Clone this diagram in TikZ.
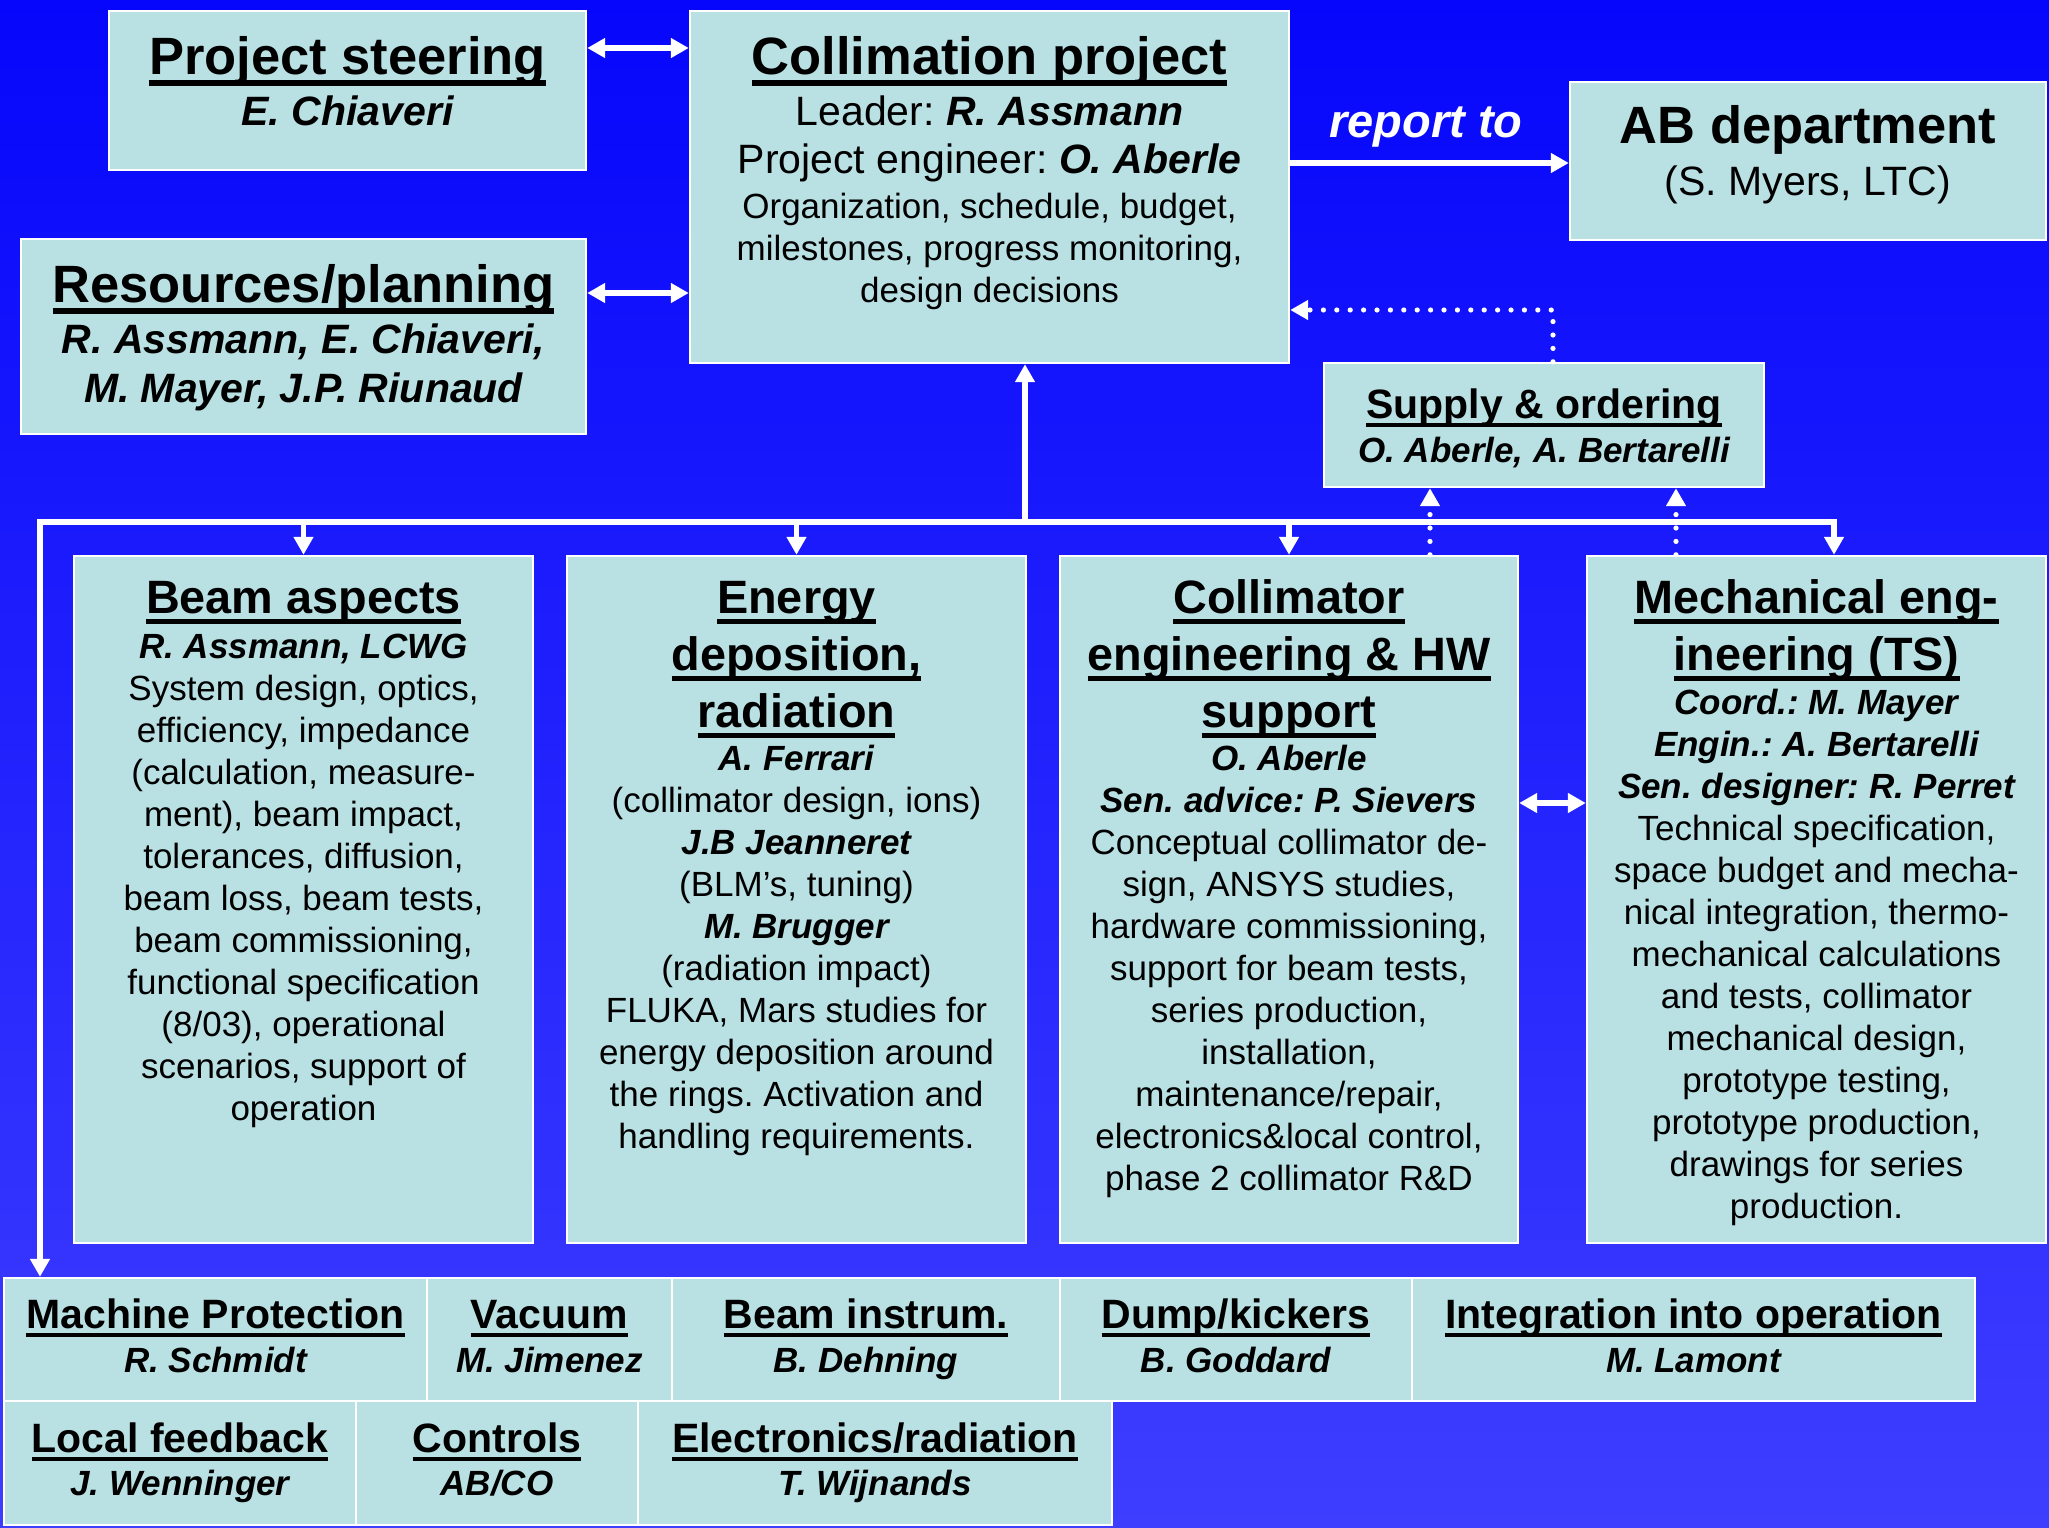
\documentclass[tikz,border=0pt]{standalone}
\usepackage{fontspec}
\setmainfont{Liberation Sans}
\usetikzlibrary{arrows.meta,fit}
\frenchspacing

\definecolor{boxfill}{RGB}{185,224,227}
\definecolor{bgtop}{RGB}{6,6,252}
\definecolor{bgbot}{RGB}{62,62,255}

% font sizes (picture unit: 1 = 0.5pt)
\newcommand\fhead{\fontsize{26.25pt}{31pt}\selectfont\bfseries}
\newcommand\fsub{\fontsize{23.4pt}{28pt}\selectfont\bfseries}
\newcommand\fmid{\fontsize{20.5pt}{24pt}\selectfont}
\newcommand\fbody{\fontsize{17.5pt}{21pt}\selectfont}
\newcommand\frep{\fontsize{23.5pt}{28pt}\selectfont\bfseries\itshape}

% bold italic names and underlined headings
\newcommand\nm[1]{{\bfseries\itshape #1}}
\newcommand\titleul[1]{\setbox0=\hbox{#1}\rlap{\rule[-0.225em]{\wd0}{0.105em}}\box0}

% one centred line per list item, baselines #4 apart
\newcommand\stack[6]{%
  \foreach \t [count=\i] in {#6}{%
    \node[#5] (#1-\i) at (#2,{#3+#4*(\i-1)}) {\t};}}

\tikzset{
  box/.style={draw=white, line width=1.2pt, fill=boxfill, inner sep=0pt},
  txt/.style={inner sep=0pt, anchor=base, text=black},
  head/.style={txt, font=\fhead},
  sub/.style={txt, font=\fsub},
  mid/.style={txt, font=\fmid},
  midb/.style={txt, font=\fmid\bfseries},
  midn/.style={txt, font=\fmid\bfseries\itshape},
  body/.style={txt, font=\fbody},
  bodyn/.style={txt, font=\fbody\bfseries\itshape},
  tipw/.tip={Triangle[length=9pt,width=9.5pt]},
  conn/.style={white, line width=2.6pt, -tipw},
  biconn/.style={white, line width=2.6pt, tipw-tipw},
  dots/.style={white, line width=2.6pt, line cap=round, dash pattern=on 0pt off 6.7pt, -tipw},
}

\begin{document}
\begin{tikzpicture}[x=0.5pt,y=-0.5pt]
\useasboundingbox (0,0) rectangle (2049,1527);
\fill[top color=bgtop, bottom color=bgbot] (0,0) rectangle (2049,1527);

% ---- boxes ----
\node[box, fit={(109,11) (586,170)}] (ps) {};
\node[box, fit={(21,239) (586,434)}] (res) {};
\node[box, fit={(690,11) (1289,363)}] (coll) {};
\node[box, fit={(1570,82) (2046,240)}] (ab) {};
\node[box, fit={(1324,363) (1764,487)}] (supply) {};
\node[box, fit={(74,556) (533,1243)}] (beam) {};
\node[box, fit={(567,556) (1026,1243)}] (energy) {};
\node[box, fit={(1060,556) (1518,1243)}] (collim) {};
\node[box, fit={(1587,556) (2046,1243)}] (mech) {};
% bottom rows
\node[box, fit={(4,1278) (427,1401)}] (mp) {};
\node[box, fit={(427,1278) (672,1401)}] (vac) {};
\node[box, fit={(672,1278) (1060,1401)}] (bi) {};
\node[box, fit={(1060,1278) (1412,1401)}] (dk) {};
\node[box, fit={(1412,1278) (1975,1401)}] (integ) {};
\node[box, fit={(4,1401) (356,1525)}] (lf) {};
\node[box, fit={(356,1401) (638,1525)}] (ctrl) {};
\node[box, fit={(638,1401) (1112,1525)}] (elec) {};

% ---- texts ----
\node[head] (ps-t) at (347.5,74) {\titleul{Project steering}};
\node[midn] (ps-n) at (347.5,125) {E. Chiaveri};

\node[head] (res-t) at (303.5,302) {\titleul{Resources/planning}};
\stack{res}{303.5}{353}{49}{midn}{{R. Assmann, E. Chiaveri,},{M. Mayer, J.P. Riunaud}}

\node[head] (coll-t) at (989.5,74) {\titleul{Collimation project}};
\node[mid] (coll-l) at (989.5,125) {Leader: \nm{R. Assmann}};
\node[mid] (coll-e) at (989.5,173) {Project engineer: \nm{O. Aberle}};
\stack{coll}{989.5}{218}{42}{body}{{Organization, schedule, budget,},{milestones, progress monitoring,},{design decisions}}

\node[txt, font=\frep, text=white] (rep) at (1426,137) {report to};

\node[head] (ab-t) at (1808,143) {AB department};
\node[mid] (ab-n) at (1808,195) {(S. Myers, LTC)};

\node[midb] (supply-t) at (1544,418) {\titleul{Supply \& ordering}};
\node[bodyn] (supply-n) at (1544,462) {O. Aberle, A. Bertarelli};

% beam aspects
\node[sub] (beam-t) at (303.5,613) {\titleul{Beam aspects}};
\node[bodyn] (beam-n) at (303.5,658) {R. Assmann, LCWG};
\stack{beam}{303.5}{700}{42}{body}{{System design, optics,},{efficiency, impedance},{(calculation, measure-},{ment), beam impact,},{tolerances, diffusion,},{beam loss, beam tests,},{beam commissioning,},{functional specification},{(8/03), operational},{scenarios, support of},{operation}}

% energy deposition
\stack{energyt}{796.5}{613}{57}{sub}{{\titleul{Energy}},{\titleul{deposition,}},{\titleul{radiation}}}
\stack{energy}{796.5}{770}{42}{body}{{\nm{A. Ferrari}},{(collimator design, ions)},{\nm{J.B Jeanneret}},{(BLM’s, tuning)},{\nm{M. Brugger}},{(radiation impact)},{FLUKA, Mars studies for},{energy deposition around},{the rings. Activation and},{handling requirements.}}

% collimator engineering
\stack{collimt}{1289}{613}{57}{sub}{{\titleul{Collimator}},{\titleul{engineering \& HW}},{\titleul{support}}}
\stack{collim}{1289}{770}{42}{body}{{\nm{O. Aberle}},{\nm{Sen. advice: P. Sievers}},{Conceptual collimator de-},{sign, ANSYS studies,},{hardware commissioning,},{support for beam tests,},{series production,},{installation,},{maintenance/repair,},{electronics\&local control,},{phase 2 collimator R\&D}}

% mechanical engineering
\stack{mecht}{1816.5}{613}{57}{sub}{{\titleul{Mechanical eng-}},{\titleul{ineering (TS)}}}
\stack{mech}{1816.5}{714}{42}{body}{{\nm{Coord.: M. Mayer}},{\nm{Engin.: A. Bertarelli}},{\nm{Sen. designer: R. Perret}},{Technical specification,},{space budget and mecha-},{nical integration, thermo-},{mechanical calculations},{and tests, collimator},{mechanical design,},{prototype testing,},{prototype production,},{drawings for series},{production.}}

% bottom rows
\node[midb] (mp-t) at (215.5,1328) {\titleul{Machine Protection}};
\node[bodyn] (mp-n) at (215.5,1372) {R. Schmidt};
\node[midb] (vac-t) at (549.5,1328) {\titleul{Vacuum}};
\node[bodyn] (vac-n) at (549.5,1372) {M. Jimenez};
\node[midb] (bi-t) at (866,1328) {\titleul{Beam instrum.}};
\node[bodyn] (bi-n) at (866,1372) {B. Dehning};
\node[midb] (dk-t) at (1236,1328) {\titleul{Dump/kickers}};
\node[bodyn] (dk-n) at (1236,1372) {B. Goddard};
\node[midb] (integ-t) at (1693.5,1328) {\titleul{Integration into operation}};
\node[bodyn] (integ-n) at (1693.5,1372) {M. Lamont};
\node[midb] (lf-t) at (180,1452) {\titleul{Local feedback}};
\node[bodyn] (lf-n) at (180,1495) {J. Wenninger};
\node[midb] (ctrl-t) at (497,1452) {\titleul{Controls}};
\node[bodyn] (ctrl-n) at (497,1495) {AB/CO};
\node[midb] (elec-t) at (875,1452) {\titleul{Electronics/radiation}};
\node[bodyn] (elec-n) at (875,1495) {T. Wijnands};

% ---- connectors ----
\coordinate (yPS) at (0,48);
\coordinate (yRes) at (0,293);
\coordinate (yRep) at (0,163);
\coordinate (yDot) at (0,310);
\coordinate (xSup) at (1553,0);
\coordinate (xD1) at (1430,0);
\coordinate (xD2) at (1676,0);
\coordinate (yCM) at (0,803);
\coordinate (busL) at (40,522);
\coordinate (busC) at (1025,522);
\coordinate (busR) at (1834,522);

\draw[biconn] (ps.east |- yPS) -- (coll.west |- yPS);
\draw[biconn] (res.east |- yRes) -- (coll.west |- yRes);
\draw[conn] (coll.east |- yRep) -- (ab.west |- yRep);
\draw[dots] (supply.north -| xSup) |- (coll.east |- yDot);

\draw[biconn] (busL |- mp.north) -- (busL) -- (busR) -- (busR |- mech.north);
\draw[conn] (busC) -- (busC |- coll.south);
\draw[conn] (beam.north |- busL) -- (beam.north);
\draw[conn] (energy.north |- busL) -- (energy.north);
\draw[conn] (collim.north |- busL) -- (collim.north);

\draw[dots] (collim.north -| xD1) -- (supply.south -| xD1);
\draw[dots] (mech.north -| xD2) -- (supply.south -| xD2);
\draw[biconn] (collim.east |- yCM) -- (mech.west |- yCM);
\end{tikzpicture}
\end{document}
